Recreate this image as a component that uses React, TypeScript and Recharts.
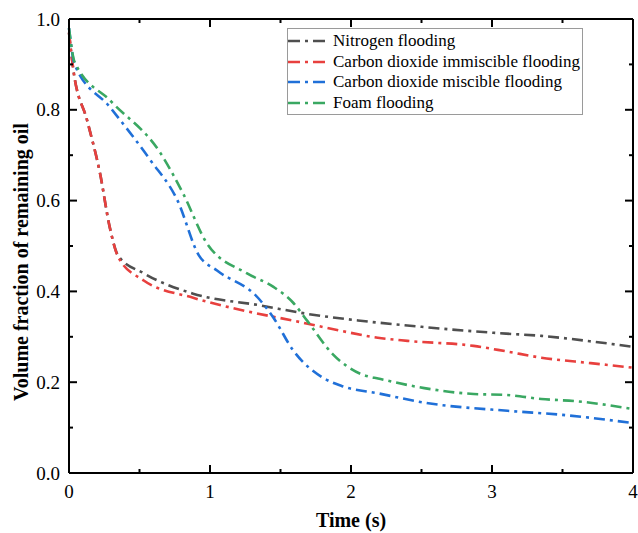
import { Line, LineChart, ReferenceLine, XAxis, YAxis } from "recharts";

// Remaining oil volume fraction over time for four flooding methods.

const nitrogenT = [0, 0.03, 0.13, 0.22, 0.29, 0.35, 0.53, 0.88, 1.36, 1.7, 2.05, 2.5, 2.83, 3.1, 3.35, 3.7, 4.0];
const nitrogenV = [0.97, 0.89, 0.775, 0.66, 0.54, 0.478, 0.44, 0.395, 0.369, 0.35, 0.336, 0.322, 0.313, 0.307, 0.302, 0.29, 0.278];

const co2ImmT = [0, 0.03, 0.13, 0.22, 0.29, 0.35, 0.53, 0.88, 1.31, 1.6, 1.93, 2.19, 2.4, 2.87, 3.1, 3.35, 3.7, 4.0];
const co2ImmV = [0.97, 0.89, 0.775, 0.66, 0.54, 0.475, 0.424, 0.386, 0.353, 0.335, 0.313, 0.298, 0.291, 0.28, 0.268, 0.254, 0.242, 0.232];

const co2MisT = [0, 0.04, 0.29, 0.575, 0.77, 0.92, 1.05, 1.34, 1.45, 1.59, 1.8, 1.93, 2.2, 2.52, 3.11, 3.5, 4.0];
const co2MisV = [0.98, 0.9, 0.806, 0.69, 0.6, 0.48, 0.446, 0.386, 0.342, 0.27, 0.21, 0.192, 0.175, 0.155, 0.137, 0.128, 0.11];

const foamT = [0, 0.04, 0.3, 0.65, 0.81, 0.98, 1.26, 1.45, 1.59, 1.69, 1.87, 2.07, 2.21, 2.52, 2.87, 3.1, 3.35, 3.6, 4.0];
const foamV = [0.98, 0.905, 0.818, 0.704, 0.615, 0.505, 0.44, 0.41, 0.375, 0.335, 0.262, 0.218, 0.207, 0.187, 0.174, 0.172, 0.163, 0.158, 0.141];

const xTicks = [0, 0.5, 1, 1.5, 2, 2.5, 3, 3.5, 4];
const yTicks = [0, 0.1, 0.2, 0.3, 0.4, 0.5, 0.6, 0.7, 0.8, 0.9, 1.0];

const zip = (t: number[], v: number[]) => t.map((x, i) => ({ t: x, v: v[i] }));

const series = [
  { name: "Nitrogen flooding", color: "#4f4f4f", data: zip(nitrogenT, nitrogenV) },
  { name: "Carbon dioxide immiscible flooding", color: "#e8403e", data: zip(co2ImmT, co2ImmV) },
  { name: "Carbon dioxide miscible flooding", color: "#2070d8", data: zip(co2MisT, co2MisV) },
  { name: "Foam flooding", color: "#3aa862", data: zip(foamT, foamV) },
];

const W = 638;
const H = 533;
const LEFT = 69;
const RIGHT = 633;
const TOP = 19;
const BOTTOM = 473;
const FONT = "Liberation Serif";
const DASH = "11 5 3 5";

function YTick({ y, payload }: any) {
  const v = Number(payload.value);
  const major = Math.round(v * 10) % 2 === 0;
  const len = major ? 8 : 4;
  return (
    <g>
      <line x1={LEFT} x2={LEFT + len} y1={y} y2={y} stroke="#000" strokeWidth={2} />
      <line x1={RIGHT - len} x2={RIGHT} y1={y} y2={y} stroke="#000" strokeWidth={2} />
      {major && (
        <text x={LEFT - 9} y={y + 6.5} textAnchor="end" style={{ fontFamily: FONT }} fontSize={19} fill="#000">
          {v.toFixed(1)}
        </text>
      )}
    </g>
  );
}

function XTick({ x, payload }: any) {
  const v = Number(payload.value);
  const major = Number.isInteger(v);
  const len = major ? 8 : 4;
  return (
    <g>
      <line x1={x} x2={x} y1={BOTTOM} y2={BOTTOM - len} stroke="#000" strokeWidth={2} />
      <line x1={x} x2={x} y1={TOP} y2={TOP + len} stroke="#000" strokeWidth={2} />
      {major && (
        <text x={x} y={BOTTOM + 25} textAnchor="middle" style={{ fontFamily: FONT }} fontSize={19} fill="#000">
          {v}
        </text>
      )}
    </g>
  );
}

function LegendBox() {
  return (
    <div
      style={{
        position: "absolute",
        left: 287,
        top: 28,
        width: 296,
        height: 87,
        boxSizing: "border-box",
        border: "1px solid #9a9a9a",
        background: "#fff",
        padding: "2px 0 0 0",
        fontFamily: FONT,
        fontSize: 17,
        lineHeight: "20.6px",
      }}
    >
      {series.map((s) => (
        <div key={s.name} style={{ display: "flex", alignItems: "center", whiteSpace: "nowrap" }}>
          <svg width={44} height={8} style={{ flex: "none" }}>
            <line x1={0} x2={42} y1={4} y2={4} stroke={s.color} strokeWidth={2.5} strokeDasharray="12 5 3 5" />
          </svg>
          <span style={{ color: "#000", marginLeft: 1 }}>{s.name}</span>
        </div>
      ))}
    </div>
  );
}

export default function App() {
  return (
    <div style={{ position: "absolute", left: 0, top: 0, width: W, height: H, background: "#fff" }}>
      <LineChart width={W} height={H} margin={{ top: TOP, right: W - RIGHT, bottom: 0, left: 0 }}>
        <XAxis
          dataKey="t"
          type="number"
          domain={[0, 4]}
          ticks={xTicks}
          interval={0}
          height={H - BOTTOM}
          tickLine={false}
          axisLine={{ stroke: "#000", strokeWidth: 2 }}
          tick={<XTick />}
          allowDuplicatedCategory={false}
          label={{
            content: ({ viewBox }: any) => (
              <text
                x={viewBox.x + viewBox.width / 2}
                y={BOTTOM + 54}
                textAnchor="middle"
                style={{ fontFamily: FONT }}
                fontSize={20}
                fontWeight="bold"
                fill="#000"
              >
                Time (s)
              </text>
            ),
          }}
        />
        <YAxis
          type="number"
          domain={[0, 1]}
          ticks={yTicks}
          interval={0}
          width={LEFT}
          tickLine={false}
          axisLine={{ stroke: "#000", strokeWidth: 2 }}
          tick={<YTick />}
          label={{
            content: ({ viewBox }: any) => {
              const cx = 21;
              const cy = viewBox.y + viewBox.height / 2 + 16;
              return (
                <text
                  x={cx}
                  y={cy}
                  transform={`rotate(-90 ${cx} ${cy})`}
                  textAnchor="middle"
                  dominantBaseline="central"
                  style={{ fontFamily: FONT }}
                  fontSize={20}
                  fontWeight="bold"
                  fill="#000"
                >
                  Volume fraction of remaining oil
                </text>
              );
            },
          }}
        />
        <ReferenceLine y={1} stroke="#000" strokeWidth={2} ifOverflow="visible" />
        <ReferenceLine x={4} stroke="#000" strokeWidth={2} ifOverflow="visible" />
        {series.map((s) => (
          <Line
            key={s.name}
            data={s.data}
            dataKey="v"
            name={s.name}
            type="monotone"
            stroke={s.color}
            strokeWidth={2.6}
            strokeDasharray={DASH}
            dot={false}
            isAnimationActive={false}
          />
        ))}
      </LineChart>
      <LegendBox />
    </div>
  );
}
